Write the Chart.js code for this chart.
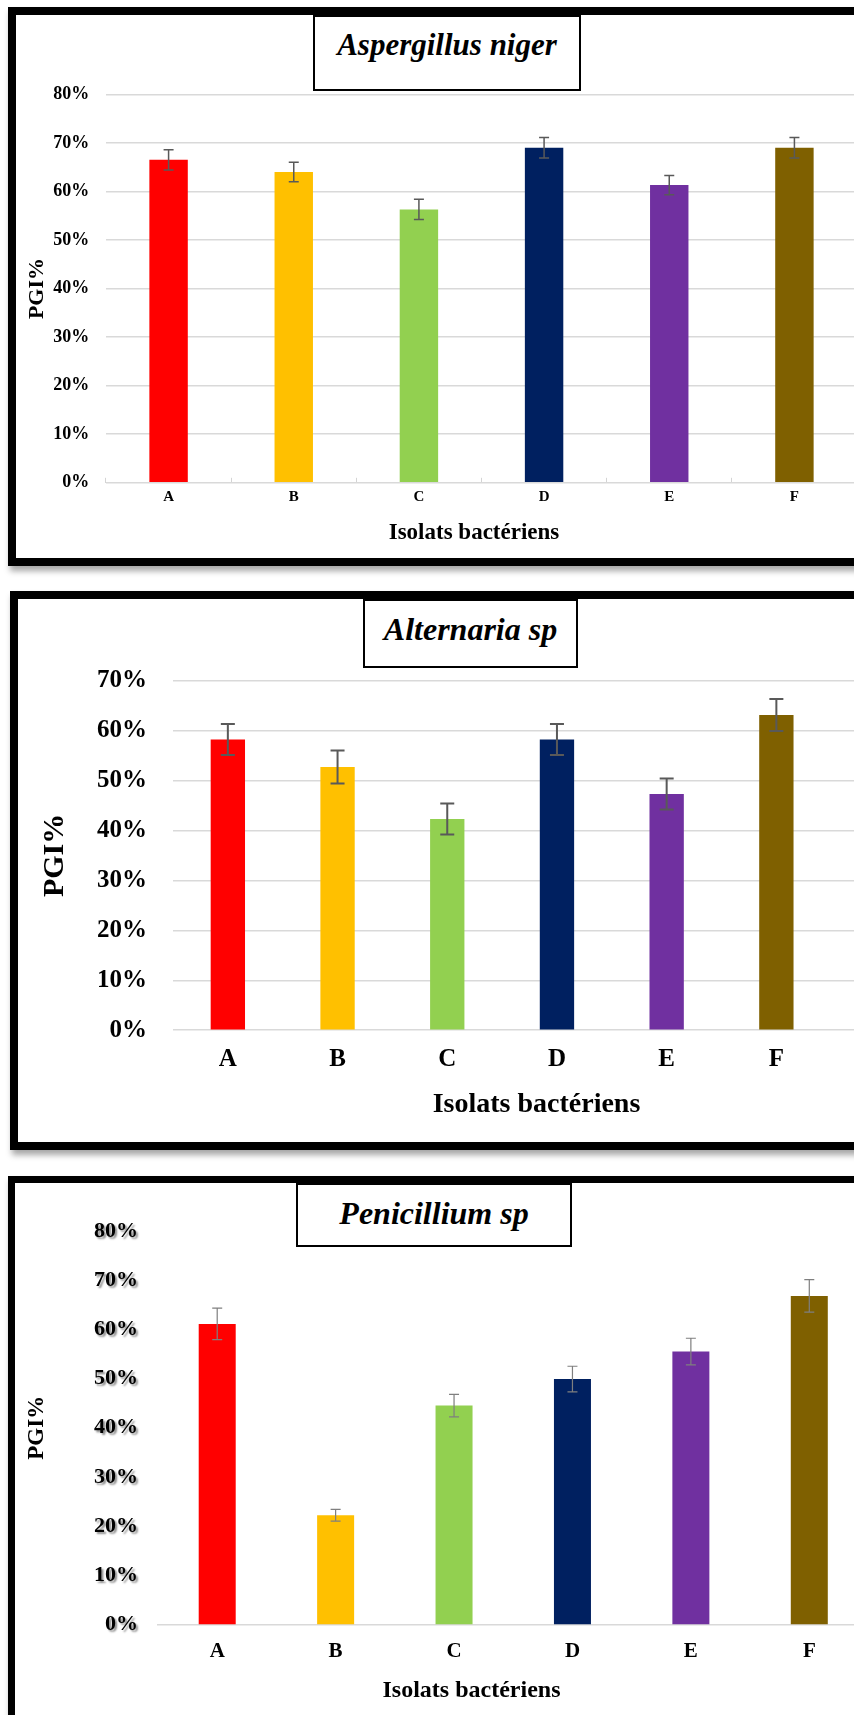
<!DOCTYPE html>
<html>
<head>
<meta charset="utf-8">
<script src="https://cdn.jsdelivr.net/npm/chart.js@4.4.0/dist/chart.umd.min.js"></script>
<style>
  body { margin: 0; background: #fff; overflow: hidden; }
  #page { position: relative; width: 854px; height: 1715px; overflow: hidden; background: #fff; }
  .frame { position: absolute; box-sizing: border-box; border: 8px solid #000; background: #fff; width: 900px;
           box-shadow: 2px 5px 6px rgba(0, 0, 0, 0.35); }
  canvas { position: absolute; left: 0; }
  .species { position: absolute; box-sizing: border-box; border: 2px solid #000; background: #fff; text-align: center;
             font-family: 'Liberation Serif', 'Times New Roman', serif; font-weight: bold; font-style: italic;
             line-height: 32px; padding-top: 12px; }
</style>
</head>
<body>
<div id="page">
  <div class="frame" style="left:8px; top:7px; height:559px;"></div>
  <div class="frame" style="left:10px; top:591px; height:559px;"></div>
  <div class="frame" style="left:8px; top:1176px; height:600px; border-width:7px;"></div>

  <canvas id="chart1" width="948" height="570" style="top:0px"></canvas>
  <canvas id="chart2" width="1073" height="570" style="top:580px"></canvas>
  <canvas id="chart3" width="943" height="555" style="top:1160px"></canvas>

  <div class="species" style="left:313px; top:15px; width:268px; height:76px; font-size:31px;">Aspergillus niger</div>
  <div class="species" style="left:363px; top:599px; width:215px; height:69px; font-size:32px;">Alternaria sp</div>
  <div class="species" style="left:296px; top:1183px; width:276px; height:64px; font-size:32px;">Penicillium sp</div>
</div>

<script>
const categories = ['A', 'B', 'C', 'D', 'E', 'F'];
const barColors = ['#FF0000', '#FFC000', '#92D050', '#002060', '#7030A0', '#7F6000'];

const aspergillusPGI = [66.5, 64.0, 56.3, 69.0, 61.3, 69.0];
const aspergillusErr = [2.1, 2.0, 2.1, 2.1, 2.0, 2.1];
const aspergillusTicks = [0, 10, 20, 30, 40, 50, 60, 70, 80];

const alternariaPGI = [58.2, 52.7, 42.3, 58.2, 47.3, 63.1];
const alternariaErr = [3.1, 3.3, 3.1, 3.1, 3.1, 3.2];
const alternariaTicks = [0, 10, 20, 30, 40, 50, 60, 70];

const penicilliumPGI = [61.1, 22.2, 44.5, 49.9, 55.5, 66.8];
const penicilliumErr = [3.2, 1.2, 2.3, 2.6, 2.7, 3.3];
const penicilliumTicks = [0, 10, 20, 30, 40, 50, 60, 70, 80];

Chart.defaults.font.family = "'Liberation Serif', 'Times New Roman', serif";
Chart.defaults.color = '#000';

// error bars drawn from the value scale, on top of each bar
const errorBars = {
    id: 'errorBars',
    afterDatasetsDraw(chart, args, opts) {
        const ctx = chart.ctx;
        const y = chart.scales.y;
        const bars = chart.getDatasetMeta(0).data;
        ctx.save();
        ctx.strokeStyle = opts.color;
        ctx.lineWidth = opts.width;
        bars.forEach(function(bar, i) {
            const top = y.getPixelForValue(opts.values[i] + opts.errors[i]);
            const bottom = y.getPixelForValue(opts.values[i] - opts.errors[i]);
            ctx.beginPath();
            ctx.moveTo(bar.x, top);
            ctx.lineTo(bar.x, bottom);
            ctx.moveTo(bar.x - opts.cap / 2, top);
            ctx.lineTo(bar.x + opts.cap / 2, top);
            ctx.moveTo(bar.x - opts.cap / 2, bottom);
            ctx.lineTo(bar.x + opts.cap / 2, bottom);
            ctx.stroke();
        });
        ctx.restore();
    }
};

// soft grey shadow behind the value labels (third chart)
const labelShadow = {
    id: 'labelShadow',
    afterLayout(chart) {
        const y = chart.scales.y;
        if (y._shadowed) return;
        const draw = y.drawLabels;
        y.drawLabels = function(area) {
            const ctx = this.ctx;
            ctx.save();
            ctx.shadowColor = 'rgba(0, 0, 0, 0.45)';
            ctx.shadowOffsetX = 2;
            ctx.shadowOffsetY = 2;
            ctx.shadowBlur = 2;
            draw.call(this, area);
            ctx.restore();
        };
        y._shadowed = true;
    }
};

function valueAxis(ticks, s) {
    return {
        min: 0,
        max: ticks[ticks.length - 1],
        afterBuildTicks: scale => { scale.ticks = ticks.map(v => ({ value: v })); },
        grid: { display: s.grid, color: '#d9d9d9', lineWidth: 1.5, drawTicks: false },
        border: { display: false },
        ticks: { font: { size: s.tickSize, weight: 'bold' }, padding: s.tickPad, callback: v => v + '%' },
        title: { display: true, text: 'PGI%', font: { size: s.titleSize, weight: 'bold' }, padding: { top: s.titlePad, bottom: 0 } },
        afterFit: scale => { scale.width = s.width; }
    };
}

// empty right-hand box so the x title stays centred on the whole canvas
function rightSpace(w) {
    return {
        position: 'right',
        grid: { display: false },
        border: { display: false },
        ticks: { display: false },
        afterFit: scale => { scale.width = w; }
    };
}

function fixHeight(h) {
    return scale => {
        scale.height = h;
        scale.paddingLeft = 0;
        scale.paddingRight = 0;
    };
}

function bottomTitle(size) {
    return { display: true, position: 'bottom', text: 'Isolats bactériens', font: { size: size, weight: 'bold' }, padding: 0 };
}

new Chart(document.getElementById('chart1'), {
    type: 'bar',
    data: {
        labels: categories,
        datasets: [{ data: aspergillusPGI, backgroundColor: barColors, categoryPercentage: 1, barPercentage: 0.307 }]
    },
    options: {
        responsive: false,
        animation: false,
        layout: { padding: { top: 94.3, left: 0, right: 0, bottom: 23.2 } },
        plugins: {
            legend: { display: false },
            tooltip: { enabled: false },
            title: bottomTitle(23),
            errorBars: { values: aspergillusPGI, errors: aspergillusErr, color: '#595959', width: 1.5, cap: 10 }
        },
        scales: {
            x: {
                grid: { drawOnChartArea: false, tickLength: -5, color: '#d4d4d4' },
                border: { display: false },
                ticks: { font: { size: 15, weight: 'bold' }, padding: 10.8 },
                afterFit: fixHeight(36.4)
            },
            y: valueAxis(aspergillusTicks, { grid: true, tickSize: 18, tickPad: 16.7, titleSize: 22, titlePad: 23.8, width: 106 }),
            y2: rightSpace(91)
        }
    },
    plugins: [errorBars]
});

new Chart(document.getElementById('chart2'), {
    type: 'bar',
    data: {
        datasets: [{
            data: alternariaPGI.map((v, i) => ({ x: i, y: v })),
            backgroundColor: barColors,
            categoryPercentage: 1,
            barPercentage: 0.313
        }]
    },
    options: {
        responsive: false,
        animation: false,
        layout: { padding: { top: 100.6, left: 0, right: 0, bottom: 28.6 } },
        plugins: {
            legend: { display: false },
            tooltip: { enabled: false },
            title: bottomTitle(28),
            errorBars: { values: alternariaPGI, errors: alternariaErr, color: '#595959', width: 2, cap: 14 }
        },
        scales: {
            x: {
                type: 'linear',
                offset: false,
                min: -0.5,
                max: 6.127,
                afterBuildTicks: scale => { scale.ticks = categories.map((c, i) => ({ value: i })); },
                grid: { display: false, drawTicks: false },
                border: { display: false },
                ticks: { font: { size: 25, weight: 'bold' }, padding: 14.8, autoSkip: false, callback: v => categories[v] },
                afterFit: fixHeight(57.6)
            },
            y: valueAxis(alternariaTicks, { grid: true, tickSize: 25, tickPad: 26, titleSize: 30, titlePad: 37, width: 173 }),
            y2: rightSpace(173)
        }
    },
    plugins: [errorBars]
});

new Chart(document.getElementById('chart3'), {
    type: 'bar',
    data: {
        labels: categories,
        datasets: [{ data: penicilliumPGI, backgroundColor: barColors, categoryPercentage: 1, barPercentage: 0.3125 }]
    },
    options: {
        responsive: false,
        animation: false,
        layout: { padding: { top: 71, left: 0, right: 0, bottom: 9.6 } },
        plugins: {
            legend: { display: false },
            tooltip: { enabled: false },
            title: bottomTitle(24),
            errorBars: { values: penicilliumPGI, errors: penicilliumErr, color: '#7f7f7f', width: 1.2, cap: 10 }
        },
        scales: {
            x: {
                grid: { display: false, drawTicks: false },
                border: { display: true, color: '#d9d9d9', width: 1.5 },
                ticks: { font: { size: 21, weight: 'bold' }, padding: 14.9 },
                afterFit: fixHeight(52.1)
            },
            y: valueAxis(penicilliumTicks, { grid: false, tickSize: 22, tickPad: 20, titleSize: 23, titlePad: 23.2, width: 158 }),
            y2: rightSpace(74.5)
        }
    },
    plugins: [errorBars, labelShadow]
});
</script>
</body>
</html>
